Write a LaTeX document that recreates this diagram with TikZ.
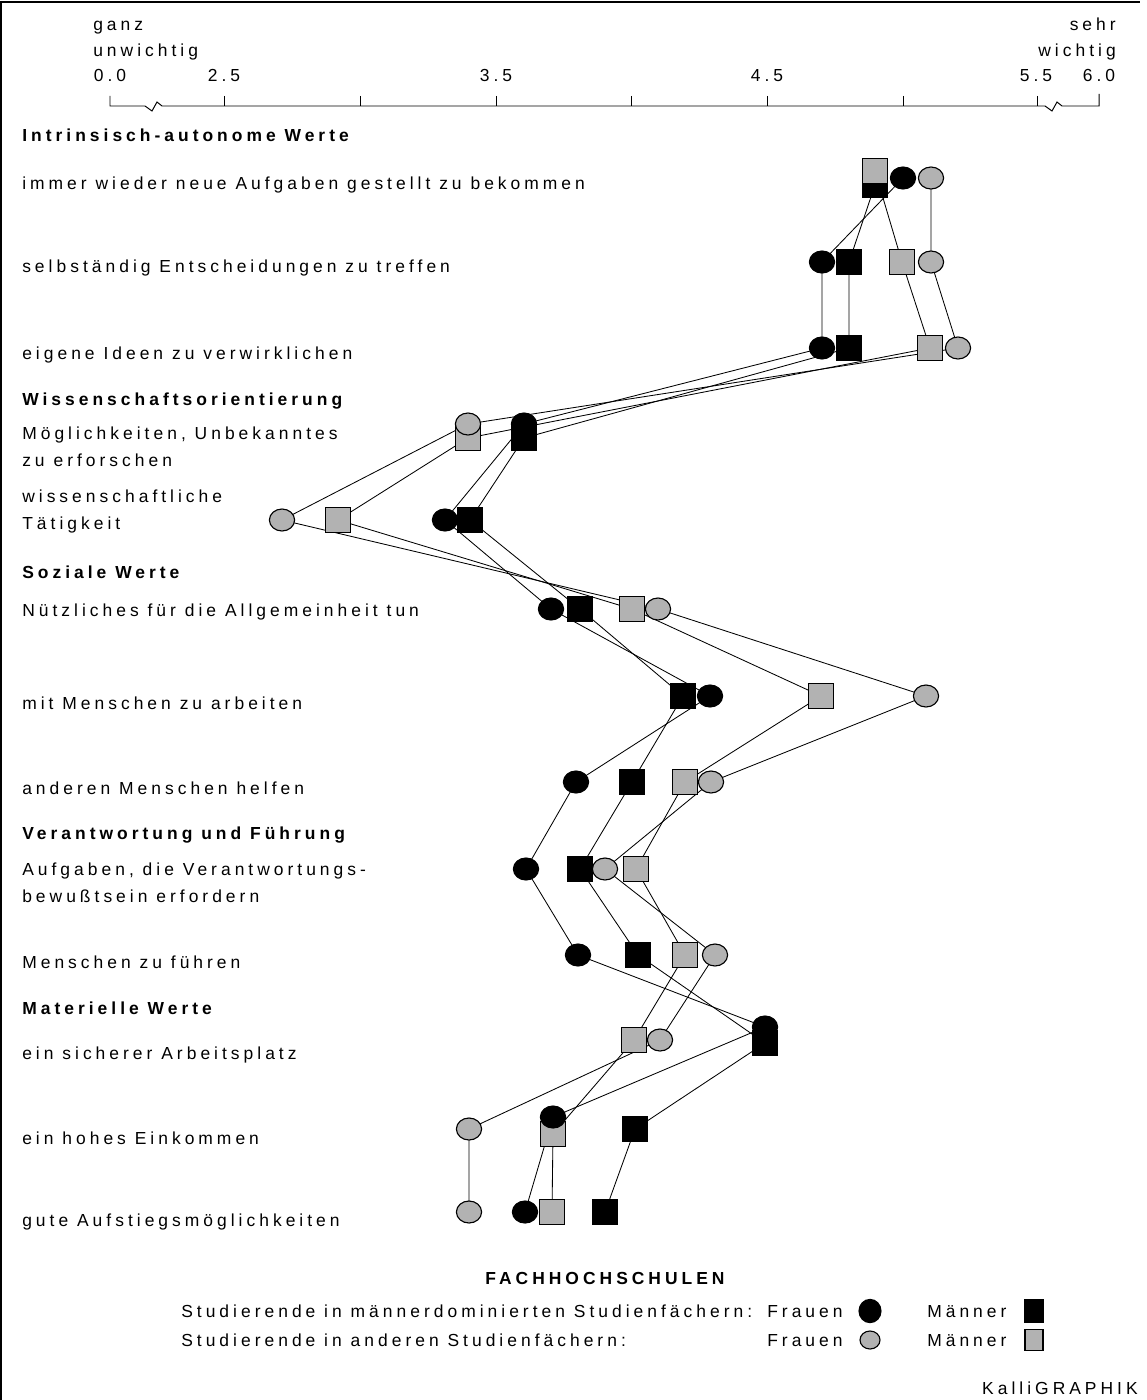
\documentclass[tikz,border=0pt]{standalone}
\usepackage{fontspec}
\setmainfont{Liberation Sans}[LetterSpace=23]
\usetikzlibrary{shapes.geometric,backgrounds}
\definecolor{symgrau}{gray}{0.7}
\newcommand{\grundschrift}{\fontsize{12.4pt}{18.5pt}\selectfont}
\tikzset{
  fmdot/.style={ellipse, draw=black, fill=black, line width=0.8pt, minimum width=0.63cm, minimum height=0.55cm, inner sep=0pt},
  fadot/.style={fmdot, fill=symgrau},
  mmbox/.style={rectangle, draw=black, fill=black, line width=0.8pt, minimum size=0.62cm, inner sep=0pt},
  mabox/.style={mmbox, fill=symgrau},
  zeile/.style={anchor=base west, inner sep=0pt, align=left},
  kopf/.style={zeile, font=\grundschrift\bfseries},
  skala/.style={anchor=base, inner sep=0pt},
  verlauf/.style={line width=0.6pt},
  achse/.style={line width=0.7pt}
}

\begin{document}
\begin{tikzpicture}[x=0.025cm, y=-0.025cm, font=\grundschrift]
  \useasboundingbox (0,0) rectangle (1146,1400);
  % Rahmen
  \draw[line width=1.4pt] (1,1400) -- (1,2) -- (1140,2);

  % Skala
  \node[zeile] (ganz) at (93,57) {ganz\\unwichtig};
  \node[zeile, anchor=base east, align=right] (sehr) at (1116,57) {sehr\\wichtig};
  \node[skala] (s00) at (110,82) {0.0};
  \node[skala] (s25) at (224,82) {2.5};
  \node[skala] (s35) at (496,82) {3.5};
  \node[skala] (s45) at (767,82) {4.5};
  \node[skala] (s55) at (1036,82) {5.5};
  \node[skala] (s60) at (1099,82) {6.0};
  \draw[achse] (110,96) -- (110,106) -- (145,106) -- (152,111) -- (157,102) -- (162,106)
    -- (1045,106) -- (1052,111) -- (1057,102) -- (1062,106) -- (1099,106) -- (1099,94);
  \draw[achse] (224,96) -- (224,106) (360,96) -- (360,106) (496,96) -- (496,106)
    (631,96) -- (631,106) (767,96) -- (767,106) (903,96) -- (903,106) (1037,96) -- (1037,106);

  % Beschriftungen
  \node[kopf] (k1) at (22,141) {Intrinsisch-autonome Werte};
  \node[zeile] (z1) at (22,189) {immer wieder neue Aufgaben gestellt zu bekommen};
  \node[zeile] (z2) at (22,272) {selbständig Entscheidungen zu treffen};
  \node[zeile] (z3) at (22,359) {eigene Ideen zu verwirklichen};
  \node[kopf] (k2) at (22,405) {Wissenschaftsorientierung};
  \node[zeile] (z4) at (22,466) {Möglichkeiten, Unbekanntes\\zu erforschen};
  \node[zeile] (z5) at (22,529) {wissenschaftliche\\Tätigkeit};
  \node[kopf] (k3) at (22,578) {Soziale Werte};
  \node[zeile] (z6) at (22,616) {Nützliches für die Allgemeinheit tun};
  \node[zeile] (z7) at (22,709) {mit Menschen zu arbeiten};
  \node[zeile] (z8) at (22,794) {anderen Menschen helfen};
  \node[kopf] (k4) at (22,839) {Verantwortung und Führung};
  \node[zeile] (z9) at (22,902) {Aufgaben, die Verantwortungs-\\bewußtsein erfordern};
  \node[zeile] (z10) at (22,968) {Menschen zu führen};
  \node[kopf] (k5) at (22,1014) {Materielle Werte};
  \node[zeile] (z11) at (22,1059) {ein sicherer Arbeitsplatz};
  \node[zeile] (z12) at (22,1144) {ein hohes Einkommen};
  \node[zeile] (z13) at (22,1226) {gute Aufstiegsmöglichkeiten};

  % Werte: mm = Männer, fm = Frauen (männerdominiert); ma, fa = andere Fächer
  \node[mmbox] (mm1) at (875,185) {};  \node[mabox] (ma1) at (875,171) {};
  \node[fmdot] (fm1) at (903,178) {};  \node[fadot] (fa1) at (931,178) {};
  \node[mmbox] (mm2) at (849,262) {};  \node[mabox] (ma2) at (902,262) {};
  \node[fmdot] (fm2) at (822,262) {};  \node[fadot] (fa2) at (931,262) {};
  \node[mmbox] (mm3) at (849,348) {};  \node[mabox] (ma3) at (930,348) {};
  \node[fmdot] (fm3) at (822,348) {};  \node[fadot] (fa3) at (958,348) {};
  \node[mmbox] (mm4) at (524,438) {};  \node[mabox] (ma4) at (468,438) {};
  \node[fmdot] (fm4) at (524,424) {};  \node[fadot] (fa4) at (468,424) {};
  \node[mmbox] (mm5) at (470,520) {};  \node[mabox] (ma5) at (338,520) {};
  \node[fmdot] (fm5) at (445,520) {};  \node[fadot] (fa5) at (282,520) {};
  \node[mmbox] (mm6) at (580,609) {};  \node[mabox] (ma6) at (632,609) {};
  \node[fmdot] (fm6) at (551,609) {};  \node[fadot] (fa6) at (658,609) {};
  \node[mmbox] (mm7) at (683,696) {};  \node[mabox] (ma7) at (821,696) {};
  \node[fmdot] (fm7) at (710,696) {};  \node[fadot] (fa7) at (926,696) {};
  \node[mmbox] (mm8) at (632,782) {};  \node[mabox] (ma8) at (685,782) {};
  \node[fmdot] (fm8) at (576,782) {};  \node[fadot] (fa8) at (711,782) {};
  \node[mmbox] (mm9) at (580,869) {};  \node[mabox] (ma9) at (636,869) {};
  \node[fmdot] (fm9) at (526,869) {};  \node[fadot] (fa9) at (605,869) {};
  \node[mmbox] (mm10) at (638,955) {}; \node[mabox] (ma10) at (685,955) {};
  \node[fmdot] (fm10) at (578,955) {}; \node[fadot] (fa10) at (715,955) {};
  \node[mmbox] (mm11) at (765,1043) {}; \node[mabox] (ma11) at (634,1040) {};
  \node[fmdot] (fm11) at (765,1027) {}; \node[fadot] (fa11) at (660,1040) {};
  \node[mmbox] (mm12) at (635,1129) {}; \node[mabox] (ma12) at (553,1134) {};
  \node[fmdot] (fm12) at (553,1117) {}; \node[fadot] (fa12) at (469,1129) {};
  \node[mmbox] (mm13) at (605,1212) {}; \node[mabox] (ma13) at (552,1212) {};
  \node[fmdot] (fm13) at (525,1212) {}; \node[fadot] (fa13) at (469,1212) {};

  \begin{pgfonlayer}{background}
    \draw[verlauf] (fm1.center) -- (fm2.center) -- (fm3.center) -- (fm4.center) -- (fm5.center)
      -- (fm6.center) -- (fm7.center) -- (fm8.center) -- (fm9.center) -- (fm10.center)
      -- (fm11.center) -- (fm12.center) -- (fm13.center);
    \draw[verlauf] (mm1.center) -- (mm2.center) -- (mm3.center) -- (mm4.center) -- (mm5.center)
      -- (mm6.center) -- (mm7.center) -- (mm8.center) -- (mm9.center) -- (mm10.center)
      -- (mm11.center) -- (mm12.center) -- (mm13.center);
    \draw[verlauf] (fa1.center) -- (fa2.center) -- (fa3.center) -- (fa4.center) -- (fa5.center)
      -- (fa6.center) -- (fa7.center) -- (fa8.center) -- (fa9.center) -- (fa10.center)
      -- (fa11.center) -- (fa12.center) -- (fa13.center);
    \draw[verlauf] (ma1.center) -- (ma2.center) -- (ma3.center) -- (ma4.center) -- (ma5.center)
      -- (ma6.center) -- (ma7.center) -- (ma8.center) -- (ma9.center) -- (ma10.center)
      -- (ma11.center) -- (ma12.center) -- (ma13.center);
  \end{pgfonlayer}

  % Legende
  \node[skala, font=\grundschrift\bfseries] (titel) at (605,1284) {FACHHOCHSCHULEN};
  \node[zeile] (leg1) at (181,1317) {Studierende in männerdominierten Studienfächern:};
  \node[zeile] (leg2) at (181,1346) {Studierende in anderen Studienfächern:};
  \node[zeile] (fr1) at (767,1317) {Frauen};
  \node[zeile] (fr2) at (767,1346) {Frauen};
  \node[zeile] (mn1) at (927,1317) {Männer};
  \node[zeile] (mn2) at (927,1346) {Männer};
  \node[fmdot, minimum width=0.55cm, minimum height=0.58cm] (lfm) at (870,1311) {};
  \node[fadot, minimum width=0.5cm, minimum height=0.45cm] (lfa) at (870,1340) {};
  \node[mmbox, minimum width=0.45cm, minimum height=0.58cm] (lmm) at (1034,1311) {};
  \node[mabox, minimum width=0.45cm, minimum height=0.52cm] (lma) at (1034,1340) {};
  \node[zeile, anchor=base east] (kalli) at (1138,1394) {KalliGRAPHIK};
\end{tikzpicture}
\end{document}
